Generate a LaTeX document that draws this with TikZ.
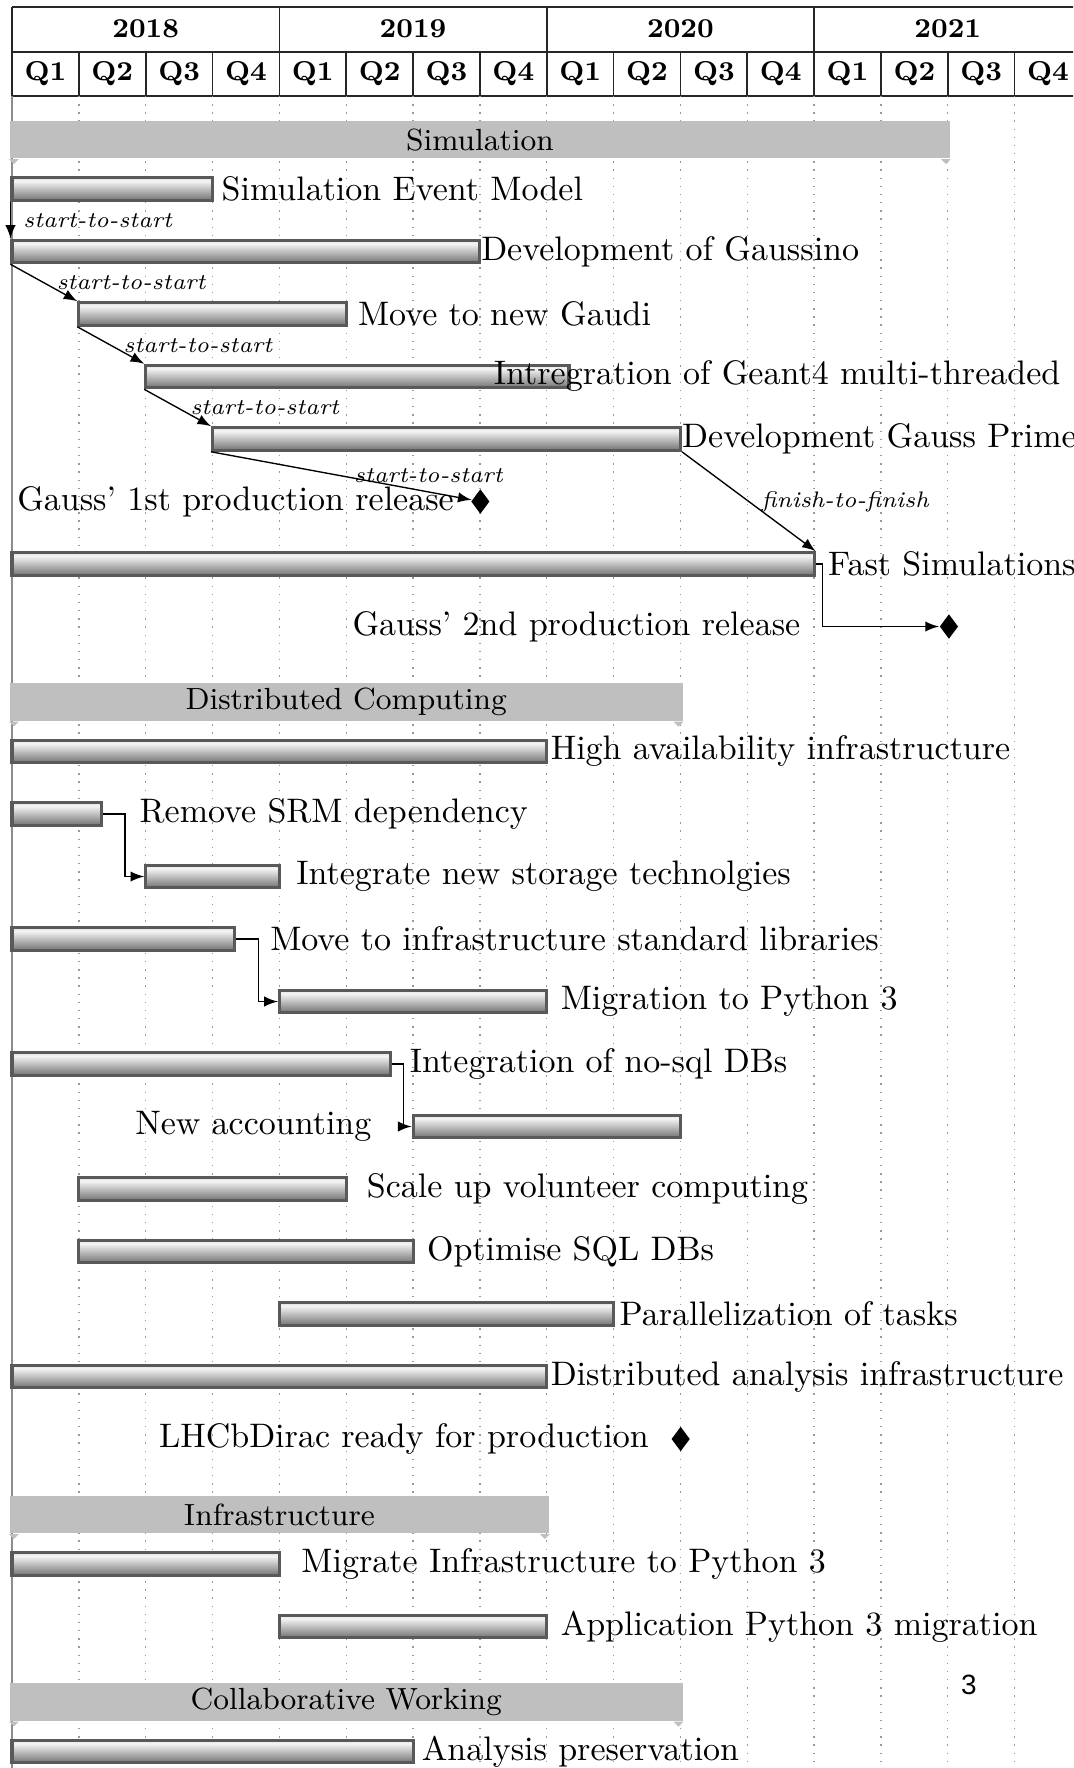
\documentclass[tikz,border=0pt]{standalone}
\usepackage{fontspec}
\newfontfamily\pagefont{Liberation Sans}
\usetikzlibrary{arrows,fit,shapes.geometric}

\pgfdeclareverticalshading{barshade}{100bp}{color(0bp)=(black!55); color(25bp)=(black!55); color(68bp)=(black!4); color(75bp)=(black!12); color(100bp)=(black!12)}

\tikzset{
  gbar/.style={draw=black!65, line width=0.9pt, shade, shading=barshade, inner sep=0pt},
  ggroup/.style={fill=black!25, inner sep=0pt},
  glabel/.style={anchor=west, inner sep=0pt},
  mslabel/.style={anchor=east, inner sep=0pt},
  milestone/.style={diamond, fill=black, inner sep=0pt, minimum width=5.5pt, minimum height=7.35pt},
  glink/.style={-latex, line width=0.4pt},
  linklabel/.style={anchor=west, inner sep=3.6pt, font=\fontsize{6.6}{8}\selectfont\itshape},
  hdr/.style={font=\footnotesize\bfseries},
  hline/.style={black!85, line width=0.5pt},
  gridline/.style={black!40, dotted, line width=0.4pt}
}

% task bar: name, start month, end month, row
\newcommand{\gbar}[4]{\node[gbar, fit={(#2,#4-0.18) (#3,#4+0.18)}] (#1) {};}
% group bar: name, start, end, row, title
\newcommand{\ggroup}[5]{%
  \node[ggroup, fit={(#2-0.11,#4-0.09) (#3+0.11,#4+0.51)}, label={[font=\small]center:#5}] (#1) {};
  \fill[black!25] (#1.south west) -- ++(0.45,0) -- ++(-0.225,0.08) -- cycle;
  \fill[black!25] (#1.south east) -- ++(-0.45,0) -- ++(0.225,0.08) -- cycle;}

\begin{document}
\begin{tikzpicture}[x=6.553pt,y=-18.382pt]
\useasboundingbox (-0.539,-2.024) rectangle (47.62,26.264);
\clip (-0.539,-2.024) rectangle (47.62,26.264);

% header
\draw[hline] (0,-1.917) -- (48,-1.917);
\draw[hline] (0,-1.197) -- (48,-1.197);
\draw[hline] (0,-0.488) -- (48,-0.488);
\foreach \x in {0,12,...,48} \draw[hline] (\x,-1.917) -- (\x,-0.488);
\foreach \x in {3,6,...,45} \draw[hline] (\x,-1.197) -- (\x,-0.488);
\foreach \yr [count=\i from 0] in {2018,2019,2020,2021}
  \node[hdr] (y\yr) at (12*\i+6,-1.557) {\yr};
\foreach \q in {0,...,15} {
  \pgfmathtruncatemacro\qn{mod(\q,4)+1}
  \node[hdr] (q\q) at (3*\q+1.5,-0.843) {Q\qn};
}

% grid
\foreach \x in {3,6,...,45} \draw[gridline] (\x,-0.488) -- (\x,26.3);
\draw[black!45, line width=0.7pt] (0,-0.488) -- (0,26.3);

% Simulation
\ggroup{gsim}{0}{42}{0}{Simulation}
\gbar{sem}{0}{9}{1}
\node[glabel] (lsem) at (9.38,1) {Simulation Event Model};
\gbar{gau}{0}{21}{2}
\node[glabel] (lgau) at (21.03,2) {Development of Gaussino};
\gbar{gdi}{3}{15}{3}
\node[glabel] (lgdi) at (15.5,3) {Move to new Gaudi};
\gbar{gft}{6}{25}{4}
\node[glabel] (lgft) at (21.6,4) {Intregration of Geant4 multi-threaded};
\gbar{gpr}{9}{30}{5}
\node[glabel] (lgpr) at (30.05,5) {Development Gauss Prime};
\node[milestone] (ms1) at (21.02,6) {};
\node[mslabel] (lms1) at (19.86,6) {Gauss' 1st production release};
\gbar{fsi}{0}{36}{7}
\node[glabel] (lfsi) at (36.6,7) {Fast Simulations};
\node[milestone] (ms2) at (42.05,8) {};
\node[mslabel] (lms2) at (35.41,8) {Gauss' 2nd production release};

\draw[glink] (sem.south west) -- node[linklabel] {start-to-start} (gau.north west);
\draw[glink] (gau.south west) -- node[linklabel] {start-to-start} (gdi.north west);
\draw[glink] (gdi.south west) -- node[linklabel] {start-to-start} (gft.north west);
\draw[glink] (gft.south west) -- node[linklabel] {start-to-start} (gpr.north west);
\draw[glink] (gpr.south west) -- node[linklabel] {start-to-start} (ms1);
\draw[glink] (gpr.south east) -- node[linklabel] {finish-to-finish} (fsi.north east);
\draw[glink] (fsi.east) -- ++(0.3,0) |- (ms2);

% Distributed Computing
\ggroup{gdc}{0}{30}{9}{Distributed Computing}
\gbar{hai}{0}{24}{10}
\node[glabel] (lhai) at (24.15,10) {High availability infrastructure};
\gbar{srm}{0}{4}{11}
\node[glabel] (lsrm) at (5.7,11) {Remove SRM dependency};
\gbar{nst}{6}{12}{12}
\node[glabel] (lnst) at (12.73,12) {Integrate new storage technolgies};
\gbar{isl}{0}{10}{13}
\node[glabel] (lisl) at (11.56,13) {Move to infrastructure standard libraries};
\gbar{mpy}{12}{24}{14}
\node[glabel] (lmpy) at (24.6,14) {Migration to Python 3};
\gbar{nsq}{0}{17}{15}
\node[glabel] (lnsq) at (17.83,15) {Integration of no-sql DBs};
\gbar{acc}{18}{30}{16}
\node[mslabel] (lacc) at (16.16,16) {New accounting};
\gbar{vol}{3}{15}{17}
\node[glabel] (lvol) at (15.9,17) {Scale up volunteer computing};
\gbar{sql}{3}{18}{18}
\node[glabel] (lsql) at (18.6,18) {Optimise SQL DBs};
\gbar{par}{12}{27}{19}
\node[glabel] (lpar) at (27.24,19) {Parallelization of tasks};
\gbar{dai}{0}{24}{20}
\node[glabel] (ldai) at (24.15,20) {Distributed analysis infrastructure};
\node[milestone] (ms3) at (30.01,21) {};
\node[mslabel] (lms3) at (28.61,21) {LHCbDirac ready for production};

\draw[glink] (srm.east) -- ++(1,0) |- (nst.west);
\draw[glink] (isl.east) -- ++(1,0) |- (mpy.west);
\draw[glink] (nsq.east) -- ++(0.5,0) |- (acc.west);

% Infrastructure
\ggroup{ginf}{0}{24}{22}{Infrastructure}
\gbar{mip}{0}{12}{23}
\node[glabel] (lmip) at (12.96,23) {Migrate Infrastructure to Python 3};
\gbar{app}{12}{24}{24}
\node[glabel] (lapp) at (24.6,24) {Application Python 3 migration};

% Collaborative Working
\ggroup{gcw}{0}{30}{25}{Collaborative Working}
\gbar{anp}{0}{18}{26}
\node[glabel] (lanp) at (18.37,26) {Analysis preservation};

\node[font=\pagefont\fontsize{8.2}{10}\selectfont] (pagenum) at (42.95,24.94) {3};
\end{tikzpicture}
\end{document}
